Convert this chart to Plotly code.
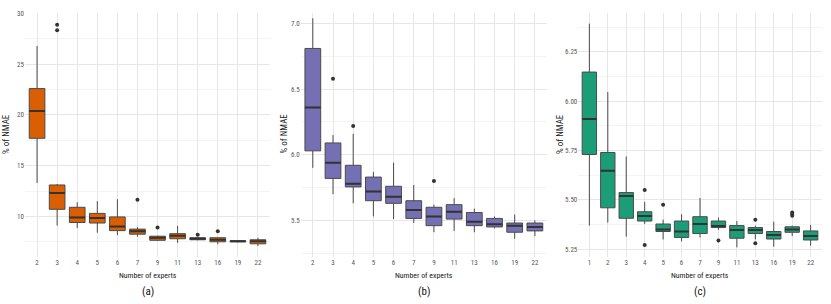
import plotly.graph_objects as go

# ---------------- data ----------------
cats_ab = ["2", "3", "4", "5", "6", "7", "9", "11", "13", "16", "19", "22"]
cats_c = ["1", "2", "3", "4", "5", "6", "7", "9", "11", "13", "16", "19", "22"]

a_lo = [13.3, 9.1, 8.85, 8.4, 8.15, 8.0, 7.6, 7.4, 7.65, 7.25, 7.45, 7.1]
a_q1 = [17.7, 10.7, 9.4, 9.35, 8.6, 8.25, 7.65, 7.8, 7.7, 7.5, 7.5, 7.3]
a_med = [20.4, 12.3, 9.9, 9.85, 9.0, 8.55, 7.9, 8.1, 7.8, 7.7, 7.55, 7.55]
a_q3 = [22.6, 13.1, 10.9, 10.3, 9.95, 8.75, 8.05, 8.3, 7.9, 7.9, 7.6, 7.7]
a_hi = [26.8, 13.2, 11.4, 11.5, 11.7, 8.95, 8.1, 9.05, 7.95, 7.95, 7.65, 7.9]
a_out_cat = ["3", "3", "7", "9", "13", "16"]
a_out_val = [28.9, 28.35, 11.65, 8.9, 8.2, 8.55]

b_lo = [5.90, 5.70, 5.63, 5.53, 5.51, 5.48, 5.41, 5.42, 5.41, 5.44, 5.36, 5.38]
b_q1 = [6.03, 5.82, 5.755, 5.65, 5.63, 5.515, 5.46, 5.51, 5.46, 5.45, 5.41, 5.42]
b_med = [6.36, 5.94, 5.78, 5.72, 5.68, 5.58, 5.53, 5.565, 5.49, 5.47, 5.46, 5.45]
b_q3 = [6.81, 6.09, 5.92, 5.83, 5.76, 5.65, 5.60, 5.62, 5.56, 5.515, 5.48, 5.48]
b_hi = [7.04, 6.15, 6.16, 5.87, 5.94, 5.77, 5.62, 5.67, 5.59, 5.53, 5.545, 5.50]
b_out_cat = ["3", "4", "9"]
b_out_val = [6.58, 6.22, 5.80]

c_lo = [5.37, 5.385, 5.314, 5.378, 5.30, 5.29, 5.31, 5.348, 5.26, 5.30, 5.263, 5.317, 5.268]
c_q1 = [5.73, 5.46, 5.407, 5.393, 5.34, 5.31, 5.33, 5.36, 5.306, 5.33, 5.302, 5.336, 5.297]
c_med = [5.91, 5.647, 5.52, 5.419, 5.35, 5.34, 5.378, 5.368, 5.348, 5.348, 5.322, 5.35, 5.317]
c_q3 = [6.147, 5.74, 5.537, 5.44, 5.378, 5.393, 5.415, 5.393, 5.37, 5.36, 5.34, 5.364, 5.343]
c_hi = [6.392, 6.046, 5.72, 5.49, 5.40, 5.427, 5.51, 5.41, 5.393, 5.37, 5.39, 5.37, 5.373]
c_out_cat = ["4", "4", "5", "9", "13", "13", "19", "19", "19"]
c_out_val = [5.55, 5.272, 5.475, 5.294, 5.40, 5.28, 5.436, 5.428, 5.42]

panel_labels = ["(a)", "(b)", "(c)"]
x_title = "Number of experts"
y_title = "% of NMAE"

# ---------------- style ----------------
FONT = "Liberation Sans Narrow, Roboto Condensed, Roboto, sans-serif"
W, H = 831, 304
BOXW = 0.78
colors = ["#D95F02", "#7570B3", "#1B9E77"]
box_line = "#4a4a4a"
med_line = "#333333"
grid_major = "#e6e6e6"
grid_minor = "#f1f1f1"

panels = [
    dict(cats=cats_ab, lo=a_lo, q1=a_q1, med=a_med, q3=a_q3, hi=a_hi,
         oc=a_out_cat, ov=a_out_val, px=(25, 270), yr=[6.05, 30.05], dt=5, mdt=2.5, fmt=""),
    dict(cats=cats_ab, lo=b_lo, q1=b_q1, med=b_med, q3=b_q3, hi=b_hi,
         oc=b_out_cat, ov=b_out_val, px=(300.7, 547), yr=[5.225, 7.08], dt=0.5, mdt=0.25, fmt=".1f"),
    dict(cats=cats_c, lo=c_lo, q1=c_q1, med=c_med, q3=c_q3, hi=c_hi,
         oc=c_out_cat, ov=c_out_val, px=(578.3, 821.7), yr=[5.2135, 6.446], dt=0.25, mdt=0.125, fmt=".2f"),
]

top_px, bot_px = 13, 256.5
ydom = [1 - bot_px / H, 1 - top_px / H]

fig = go.Figure()
layout = dict(
    template="none",
    width=W, height=H,
    margin=dict(l=0, r=0, t=0, b=0, pad=0),
    paper_bgcolor="white", plot_bgcolor="white",
    showlegend=False, hovermode=False,
    font=dict(family=FONT, color="#4d4d4d", size=7),
)
annotations = []

for k, p in enumerate(panels):
    sfx = "" if k == 0 else str(k + 1)
    xa, ya = "x" + sfx, "y" + sfx
    pos = [i + 1 for i in range(len(p["cats"]))]
    idx = {c: i + 1 for i, c in enumerate(p["cats"])}

    fig.add_trace(go.Box(
        x=pos, q1=p["q1"], median=p["med"], q3=p["q3"],
        lowerfence=p["lo"], upperfence=p["hi"],
        width=BOXW, whiskerwidth=0, boxpoints=False,
        fillcolor=colors[k], line=dict(color=box_line, width=1),
        xaxis=xa, yaxis=ya, hoverinfo="skip",
    ))
    # thicker median lines
    mx, my = [], []
    for xi, m in zip(pos, p["med"]):
        mx += [xi - BOXW / 2, xi + BOXW / 2, None]
        my += [m, m, None]
    fig.add_trace(go.Scatter(x=mx, y=my, mode="lines",
                             line=dict(color=med_line, width=2),
                             xaxis=xa, yaxis=ya, hoverinfo="skip"))
    # outliers
    fig.add_trace(go.Scatter(x=[idx[c] for c in p["oc"]], y=p["ov"], mode="markers",
                             marker=dict(color="#333333", size=4),
                             xaxis=xa, yaxis=ya, hoverinfo="skip"))

    n = len(p["cats"])
    xdom = [p["px"][0] / W, p["px"][1] / W]
    layout["xaxis" + sfx] = dict(
        domain=xdom, anchor=ya, range=[0.4, n + 0.6], automargin=False, fixedrange=True,
        tickmode="array", tickvals=pos, ticktext=p["cats"],
        showgrid=True, gridcolor=grid_major, gridwidth=1,
        zeroline=False, showline=False, ticks="", ticklen=0,
        tickfont=dict(size=7, color="#555555", family=FONT),
    )
    layout["yaxis" + sfx] = dict(
        domain=ydom, anchor=xa, range=p["yr"], automargin=False, fixedrange=True,
        tick0=0, dtick=p["dt"], tickformat=p["fmt"],
        showgrid=True, gridcolor=grid_major, gridwidth=1,
        minor=dict(showgrid=True, tick0=0, dtick=p["mdt"], gridcolor=grid_minor, gridwidth=0.8),
        zeroline=False, showline=False, ticks="", ticklen=0,
        tickfont=dict(size=7, color="#555555", family=FONT),
    )
    cx = (p["px"][0] + p["px"][1]) / 2 / W
    annotations.append(dict(text=x_title, x=cx, y=1 - 275 / H, xref="paper", yref="paper",
                            xanchor="center", yanchor="middle",
                            showarrow=False, font=dict(size=7.8, color="#1a1a1a", family=FONT)))
    annotations.append(dict(text=panel_labels[k], x=cx, y=1 - 291 / H, xref="paper", yref="paper",
                            xanchor="center", yanchor="middle",
                            showarrow=False, font=dict(size=11, color="#111111", family=FONT)))
    ylx = [6, 283.5, 560][k]
    annotations.append(dict(text=y_title, x=ylx / W, y=1 - 134 / H, xref="paper", yref="paper",
                            xanchor="center", yanchor="middle",
                            textangle=-90, showarrow=False,
                            font=dict(size=9, color="#1a1a1a", family=FONT)))

layout["annotations"] = annotations
fig.update_layout(**layout)
fig.write_html("out.html", config={"displayModeBar": False, "staticPlot": True},
               post_script="document.body.style.margin='0';document.body.style.overflow='hidden';")
